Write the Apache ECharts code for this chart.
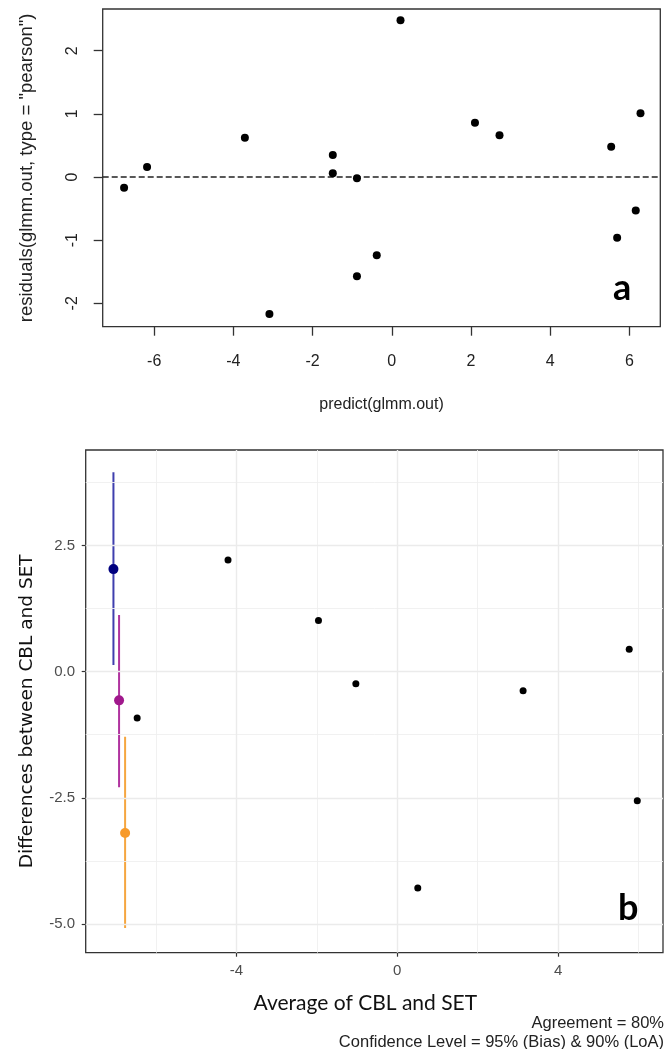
<!DOCTYPE html>
<html>
<head>
<meta charset="utf-8">
<script src="https://cdn.jsdelivr.net/npm/echarts@6.0.0/dist/echarts.min.js"></script>
<style>
html, body { margin: 0; padding: 0; background: #fff; }
#main { width: 672px; height: 1049px; }
</style>
</head>
<body>
<div id="main"></div>
<script>
// panel a: residuals vs predicted
var residX = [-6.76, -6.18, -3.71, -3.09, -1.49, -1.49, -0.88, -0.88, -0.38, 0.22, 2.10, 2.72, 5.54, 5.69, 6.16, 6.28];
var residY = [-0.17, 0.16, 0.62, -2.17, 0.35, 0.06, -0.02, -1.57, -1.24, 2.48, 0.86, 0.66, 0.48, -0.96, -0.53, 1.01];
var residTicksX = [-6, -4, -2, 0, 2, 4, 6];
var residTicksY = [-2, -1, 0, 1, 2];

// panel b: Bland-Altman
var baX = [-6.47, -4.21, -1.96, -1.03, 0.51, 3.13, 5.77, 5.97];
var baY = [-0.92, 2.21, 1.01, -0.24, -4.29, -0.38, 0.44, -2.56];
var statNames = ['Upper LoA', 'Bias', 'Lower LoA'];
var statX = [-7.06, -6.92, -6.77];
var statMid = [2.03, -0.57, -3.20];
var statLo = [0.13, -2.29, -5.08];
var statHi = [3.95, 1.12, -1.29];
var statLineColors = ['#3f3fae', '#b0339f', '#f5a640'];
var statDotColors = ['#00007f', '#a0188c', '#f79a2a'];
var baTicksX = [-4, 0, 4];
var baMinorX = [-6, -2, 2, 6];
var baTicksY = [-5, -2.5, 0, 2.5];
var baMinorY = [-3.75, -1.25, 1.25, 3.75];

var chart = echarts.init(document.getElementById('main'));

function zip(xs, ys) {
	return xs.map(function(x, i) { return [x, ys[i]]; });
}

var series = [];

// a: zero reference
series.push({
	type: 'line', xAxisIndex: 0, yAxisIndex: 0, data: [], silent: true,
	markLine: {
		silent: true, symbol: ['none', 'none'], label: { show: false },
		lineStyle: { color: '#222', width: 1.7, type: [6, 3] },
		data: [{ yAxis: 0 }]
	}
});
series.push({
	type: 'scatter', xAxisIndex: 0, yAxisIndex: 0,
	data: zip(residX, residY), symbolSize: 8,
	itemStyle: { color: '#000', opacity: 1 }, z: 5
});

// b: grid lines
var gridLines = [];
baMinorX.forEach(function(v) { gridLines.push({ xAxis: v, lineStyle: { width: 0.9, color: '#efefef' } }); });
baMinorY.forEach(function(v) { gridLines.push({ yAxis: v, lineStyle: { width: 0.9, color: '#efefef' } }); });
baTicksX.forEach(function(v) { gridLines.push({ xAxis: v, lineStyle: { width: 1.4, color: '#ebebeb' } }); });
baTicksY.forEach(function(v) { gridLines.push({ yAxis: v, lineStyle: { width: 1.4, color: '#ebebeb' } }); });
series.push({
	type: 'line', xAxisIndex: 1, yAxisIndex: 1, data: [], silent: true, z: 0,
	markLine: {
		silent: true, symbol: ['none', 'none'], label: { show: false },
		lineStyle: { type: 'solid' }, data: gridLines
	}
});

// b: bias / LoA with confidence intervals
statNames.forEach(function(name, i) {
	series.push({
		name: name, type: 'line', xAxisIndex: 1, yAxisIndex: 1,
		data: [[statX[i], statLo[i]], [statX[i], statHi[i]]],
		showSymbol: false, lineStyle: { color: statLineColors[i], width: 2 }, z: 3
	});
});
series.push({
	type: 'scatter', xAxisIndex: 1, yAxisIndex: 1, symbolSize: 10, z: 4,
	data: statNames.map(function(name, i) {
		return { name: name, value: [statX[i], statMid[i]], itemStyle: { color: statDotColors[i], opacity: 1 } };
	})
});
series.push({
	type: 'scatter', xAxisIndex: 1, yAxisIndex: 1,
	data: zip(baX, baY), symbolSize: 7,
	itemStyle: { color: '#000', opacity: 1 }, z: 5
});

var option = {
	animation: false,
	grid: [{
		left: 102.7, top: 9, right: 11.7, height: 317.7,
		show: true, borderColor: '#333', borderWidth: 1.3, backgroundColor: 'transparent'
	}, {
		left: 85.7, top: 450, right: 9, height: 502.7,
		show: true, borderColor: '#333', borderWidth: 1.3, backgroundColor: 'transparent'
	}],
	xAxis: [{
		gridIndex: 0, type: 'value', min: -7.30, max: 6.78,
		axisLine: { show: false, onZero: false },
		splitLine: { show: false },
		axisTick: { show: true, inside: false, length: 9, customValues: residTicksX, lineStyle: { color: '#333', width: 1.3 } },
		axisLabel: { customValues: residTicksX, margin: 27, fontSize: 16, color: '#222', fontFamily: 'Liberation Sans' },
		name: 'predict(glmm.out)', nameLocation: 'middle', nameGap: 70,
		nameTextStyle: { fontSize: 16, color: '#222', fontFamily: 'Liberation Sans' }
	}, {
		gridIndex: 1, type: 'value', min: -7.75, max: 6.61,
		axisLine: { show: false, onZero: false },
		splitLine: { show: false },
		axisTick: { show: true, inside: false, length: 4, customValues: baTicksX, lineStyle: { color: '#333', width: 1.2 } },
		axisLabel: { customValues: baTicksX, margin: 11, fontSize: 15, color: '#4d4d4d', fontFamily: 'Liberation Sans' },
		name: 'Average of CBL and SET', nameLocation: 'middle', nameGap: 40,
		nameTextStyle: { fontSize: 21, color: '#111', fontFamily: 'Lato', padding: [0, 18, 0, 0] }
	}],
	yAxis: [{
		gridIndex: 0, type: 'value', min: -2.37, max: 2.66,
		axisLine: { show: false, onZero: false },
		splitLine: { show: false },
		axisTick: { show: true, inside: false, length: 9, customValues: residTicksY, lineStyle: { color: '#333', width: 1.3 } },
		axisLabel: { customValues: residTicksY, margin: 22, rotate: 90, fontSize: 16, color: '#222', fontFamily: 'Liberation Sans' },
		name: 'residuals(glmm.out, type = "pearson")', nameLocation: 'middle', nameGap: 66,
		nameTextStyle: { fontSize: 18.5, color: '#222', fontFamily: 'Liberation Sans' }
	}, {
		gridIndex: 1, type: 'value', min: -5.57, max: 4.39,
		axisLine: { show: false, onZero: false },
		splitLine: { show: false },
		axisTick: { show: true, inside: false, length: 4, customValues: baTicksY, lineStyle: { color: '#333', width: 1.2 } },
		axisLabel: {
			customValues: baTicksY, margin: 10.7, fontSize: 15, color: '#4d4d4d', fontFamily: 'Liberation Sans',
			formatter: function(v) { return v.toFixed(1); }
		},
		name: 'Differences between CBL and SET', nameLocation: 'middle', nameGap: 49,
		nameTextStyle: { fontSize: 18.5, color: '#111', fontFamily: 'DejaVu Sans', padding: [0, 20, 0, 0] }
	}],
	graphic: [{
		type: 'text', left: 613, top: 270,
		style: { text: 'a', font: 'bold 36px Lato', fill: '#000' }
	}, {
		type: 'text', left: 618, top: 890,
		style: { text: 'b', font: 'bold 36px Lato', fill: '#000' }
	}, {
		type: 'text', right: 8, top: 1015,
		style: { text: 'Agreement = 80%', font: '16.5px "Liberation Sans"', fill: '#222', align: 'right' }
	}, {
		type: 'text', right: 8, top: 1034,
		style: { text: 'Confidence Level = 95% (Bias) & 90% (LoA)', font: '16.5px "Liberation Sans"', fill: '#222', align: 'right' }
	}],
	series: series
};

chart.setOption(option);
</script>
</body>
</html>
